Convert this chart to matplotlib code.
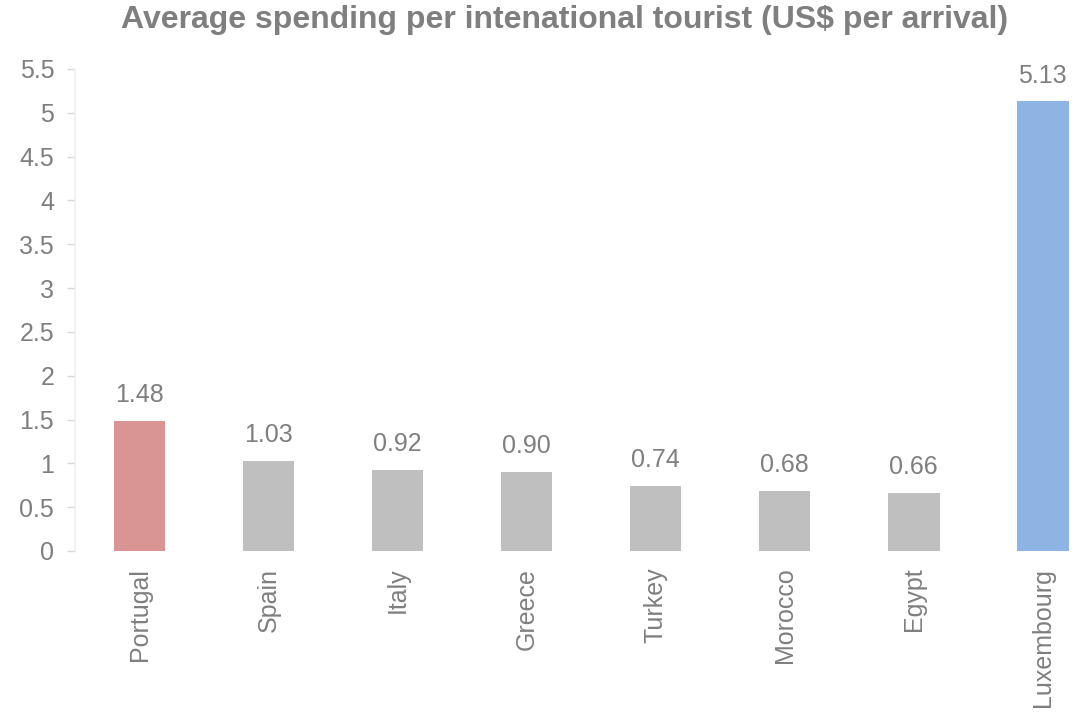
import matplotlib
matplotlib.use("Agg")
import matplotlib.pyplot as plt

plt.rcParams["font.family"] = ["Liberation Sans", "DejaVu Sans"]

countries = ["Portugal", "Spain", "Italy", "Greece", "Turkey", "Morocco", "Egypt", "Luxembourg"]
spend = [1.48, 1.03, 0.92, 0.90, 0.74, 0.68, 0.66, 5.13]
bar_colors = ["#D99594", "#BFBFBF", "#BFBFBF", "#BFBFBF", "#BFBFBF", "#BFBFBF", "#BFBFBF", "#8EB4E3"]
yticks = [0, 0.5, 1, 1.5, 2, 2.5, 3, 3.5, 4, 4.5, 5, 5.5]

TXT = "#7F7F7F"
fig = plt.figure(figsize=(10.75, 7.15), dpi=100)
ax = fig.add_axes([0.0698, 0.2294, 0.9302, 0.6741])

x = range(len(countries))
bars = ax.bar(x, spend, width=0.4, color=bar_colors, zorder=2)
for b, v in zip(bars, spend):
    ax.annotate(f"{v:.2f}", (b.get_x() + b.get_width() / 2, v), xytext=(0, 10),
                textcoords="offset points", ha="center", va="bottom", fontsize=18, color=TXT)

ax.set_xlim(-0.5, 7.25)
ax.set_ylim(0, 5.5)
ax.set_yticks(yticks)
ax.set_yticklabels([f"{t:g}" for t in yticks])
ax.set_xticks(list(x))
ax.set_xticklabels(countries, rotation=90)
ax.tick_params(axis="y", labelsize=18, labelcolor=TXT, color="#D9D9D9", length=6, width=1, pad=9)
ax.tick_params(axis="x", labelsize=18, labelcolor=TXT, length=0, pad=12)
for s in ["top", "right", "bottom"]:
    ax.spines[s].set_visible(False)
ax.spines["left"].set_color("#EFEFEF")
ax.spines["left"].set_linewidth(1.2)

fig.text(0.525, 0.972, "Average spending per intenational tourist (US$ per arrival)",
         ha="center", va="center", fontsize=23, fontweight="bold", color=TXT)

fig.savefig("out.png", dpi=100)
